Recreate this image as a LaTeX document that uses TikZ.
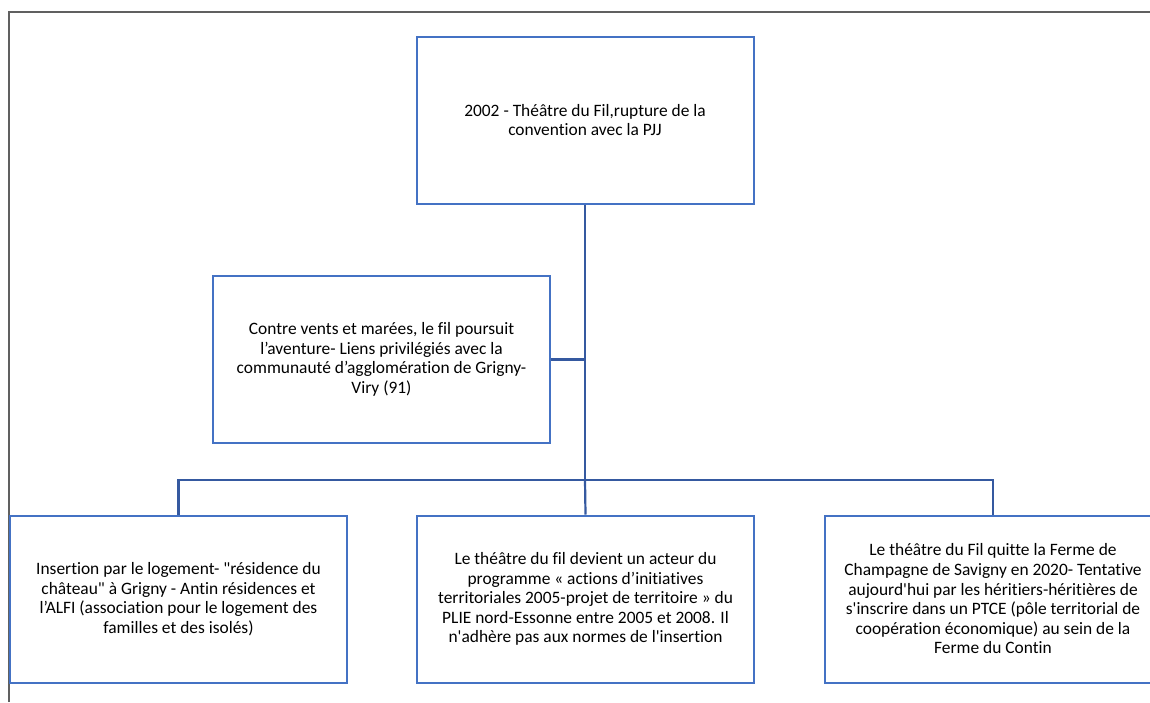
\documentclass[tikz,border=0pt]{standalone}
\usepackage{fontspec}
\setmainfont{Carlito}[Ligatures={TeXOff,CommonOff}]
\definecolor{boxblue}{HTML}{4472C4}
\definecolor{linkblue}{HTML}{3559A0}
\definecolor{framegray}{HTML}{606060}
\begin{document}
\begin{tikzpicture}[x=1pt,y=-1pt,
  etape/.style={draw=boxblue, line width=2pt, minimum width=337pt, minimum height=167pt,
    align=center, inner sep=2pt, font=\fontsize{17.4}{19.6}\selectfont},
  lien/.style={draw=linkblue, line width=2.2pt}]

% -------------------------------------------------
% Cadre
% -------------------------------------------------
\useasboundingbox (0,0) rectangle (1150,702);
\clip (0,0) rectangle (1150,702);
\fill[white] (0,0) rectangle (1150,702);
\draw[framegray, line width=2.2pt] (9,702) -- (9,12) -- (1150,12);

% -------------------------------------------------
% Etapes
% -------------------------------------------------
\node[etape] (rupture) at (585,120)
  {2002 - Théâtre du Fil,rupture de la\\convention avec la PJJ};
\node[etape] (aventure) at (381.5,359.5)
  {Contre vents et marées, le fil poursuit\\l’aventure- Liens privilégiés avec la\\communauté d’agglomération de Grigny-\\Viry (91)};
\node[etape] (logement) at (178.5,599)
  {Insertion par le logement- "résidence du\\château" à Grigny - Antin résidences et\\l’ALFI (association pour le logement des\\familles et des isolés)};
\node[etape] (plie) at (585.5,599)
  {Le théâtre du fil devient un acteur du\\programme « actions d’initiatives\\territoriales 2005-projet de territoire » du\\PLIE nord-Essonne entre 2005 et 2008. Il\\n'adhère pas aux normes de l'insertion};
\node[etape] (contin) at (993,599)
  {Le théâtre du Fil quitte la Ferme de\\Champagne de Savigny en 2020- Tentative\\aujourd'hui par les héritiers-héritières de\\s'inscrire dans un PTCE (pôle territorial de\\coopération économique) au sein de la\\Ferme du Contin};

% -------------------------------------------------
% Liens
% -------------------------------------------------
\coordinate (bus) at (585,480);
\draw[lien] (rupture.south) -- (bus);
\draw[lien] (aventure.east) -- (aventure.east -| rupture.south);
\draw[lien] (logement.north) -- (logement.north |- bus) -- (contin.north |- bus) -- (contin.north);
\draw[lien] (bus) -- (plie.north);

\end{tikzpicture}
\end{document}
